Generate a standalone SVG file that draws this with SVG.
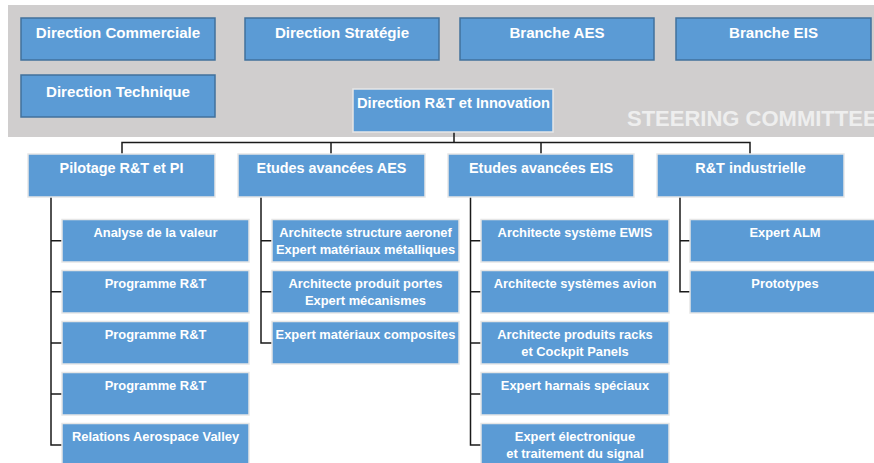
<svg xmlns="http://www.w3.org/2000/svg" width="874" height="463" viewBox="0 0 874 463">
<style>
.bg{fill:#D0CECE}
.top{fill:#5B9BD5;stroke:#41719C;stroke-width:1.5}
.lt{fill:#5B9BD5;stroke:#E6E6E6;stroke-width:1.5}
text{font-family:"Liberation Sans",Arial,sans-serif;font-weight:bold;fill:#FFFFFF;text-anchor:middle}
.t1{font-size:15.1px}
.t2{font-size:14.4px}
.t3{font-size:12.9px}
.sc{font-size:22px;fill:#EEEEEE;text-anchor:start}
.ln{fill:none;stroke:#1A1A1A;stroke-width:1.5}
</style>
<rect width="874" height="463" fill="#FFFFFF"/>
<rect class="bg" x="8" y="5" width="870" height="132"/>
<text class="sc" x="627" y="126">STEERING COMMITTEE</text>

<g id="connectors">
<path class="ln" d="M454 132V142.5M122 154V142.5H750V154M331 142.5V154M541 142.5V154"/>
<path class="ln" d="M51 197V445H62M51 240.7H62M51 291.7H62M51 343H62M51 394H62"/>
<path class="ln" d="M261 197V343H272M261 240.7H272M261 291.7H272"/>
<path class="ln" d="M470.5 197V445H481M470.5 240.7H481M470.5 291.7H481M470.5 343H481M470.5 394H481"/>
<path class="ln" d="M680 197V291.7H690M680 240.7H690"/>
</g>

<g id="dir-commerciale"><rect class="top" x="21" y="18" width="194" height="42"/><text class="t1" x="118" y="38">Direction Commerciale</text></g>
<g id="dir-strategie"><rect class="top" x="245" y="18" width="194" height="42"/><text class="t1" x="342" y="38">Direction Stratégie</text></g>
<g id="branche-aes"><rect class="top" x="460" y="18" width="194" height="42"/><text class="t1" x="557" y="38">Branche AES</text></g>
<g id="branche-eis"><rect class="top" x="676" y="18" width="195" height="42"/><text class="t1" x="773.5" y="38">Branche EIS</text></g>
<g id="dir-technique"><rect class="top" x="21" y="75" width="194" height="42"/><text class="t1" x="118" y="96.5">Direction Technique</text></g>
<g id="dir-rt"><rect class="lt" x="353" y="89" width="200" height="43"/><text class="t1" x="453.5" y="108" textLength="193" lengthAdjust="spacingAndGlyphs">Direction R&amp;T et Innovation</text></g>

<g id="pilotage"><rect class="lt" x="28" y="154" width="187" height="43"/><text class="t2" x="121.5" y="173">Pilotage R&amp;T et PI</text></g>
<g id="etudes-aes"><rect class="lt" x="238" y="154" width="187" height="43"/><text class="t2" x="331.5" y="173">Etudes avancées AES</text></g>
<g id="etudes-eis"><rect class="lt" x="448" y="154" width="186" height="43"/><text class="t2" x="541" y="173">Etudes avancées EIS</text></g>
<g id="rt-industrielle"><rect class="lt" x="657" y="154" width="187" height="43"/><text class="t2" x="750.5" y="173">R&amp;T industrielle</text></g>

<g id="analyse-valeur"><rect class="lt" x="62" y="219.5" width="187" height="42.5"/><text class="t3" x="155.5" y="236.8">Analyse de la valeur</text></g>
<g id="programme-rt-1"><rect class="lt" x="62" y="270.5" width="187" height="42.5"/><text class="t3" x="155.5" y="287.8">Programme R&amp;T</text></g>
<g id="programme-rt-2"><rect class="lt" x="62" y="321.5" width="187" height="42.5"/><text class="t3" x="155.5" y="338.8">Programme R&amp;T</text></g>
<g id="programme-rt-3"><rect class="lt" x="62" y="372.5" width="187" height="42.5"/><text class="t3" x="155.5" y="389.8">Programme R&amp;T</text></g>
<g id="relations-av"><rect class="lt" x="62" y="423.5" width="187" height="42.5"/><text class="t3" x="155.5" y="440.8">Relations Aerospace Valley</text></g>

<g id="archi-structure"><rect class="lt" x="272" y="219.5" width="187" height="42.5"/><text class="t3" x="365.5" y="236.8">Architecte structure aeronef</text><text class="t3" x="365.5" y="254.3">Expert matériaux métalliques</text></g>
<g id="archi-portes"><rect class="lt" x="272" y="270.5" width="187" height="42.5"/><text class="t3" x="365.5" y="287.8">Architecte produit portes</text><text class="t3" x="365.5" y="305.3">Expert mécanismes</text></g>
<g id="expert-composites"><rect class="lt" x="272" y="321.5" width="187" height="42.5"/><text class="t3" x="365.5" y="338.8">Expert matériaux composites</text></g>

<g id="archi-ewis"><rect class="lt" x="481" y="219.5" width="188" height="42.5"/><text class="t3" x="575" y="236.8">Architecte système EWIS</text></g>
<g id="archi-avion"><rect class="lt" x="481" y="270.5" width="188" height="42.5"/><text class="t3" x="575" y="287.8">Architecte systèmes avion</text></g>
<g id="archi-racks"><rect class="lt" x="481" y="321.5" width="188" height="42.5"/><text class="t3" x="575" y="338.8">Architecte produits racks</text><text class="t3" x="575" y="356.3">et Cockpit Panels</text></g>
<g id="expert-harnais"><rect class="lt" x="481" y="372.5" width="188" height="42.5"/><text class="t3" x="575" y="389.8">Expert harnais spéciaux</text></g>
<g id="expert-electronique"><rect class="lt" x="481" y="423.5" width="188" height="42.5"/><text class="t3" x="575" y="440.8">Expert électronique</text><text class="t3" x="575" y="458.3">et traitement du signal</text></g>

<g id="expert-alm"><rect class="lt" x="690" y="219.5" width="188" height="42.5"/><text class="t3" x="785" y="236.8">Expert ALM</text></g>
<g id="prototypes"><rect class="lt" x="690" y="270.5" width="188" height="42.5"/><text class="t3" x="785" y="287.8">Prototypes</text></g>
</svg>
